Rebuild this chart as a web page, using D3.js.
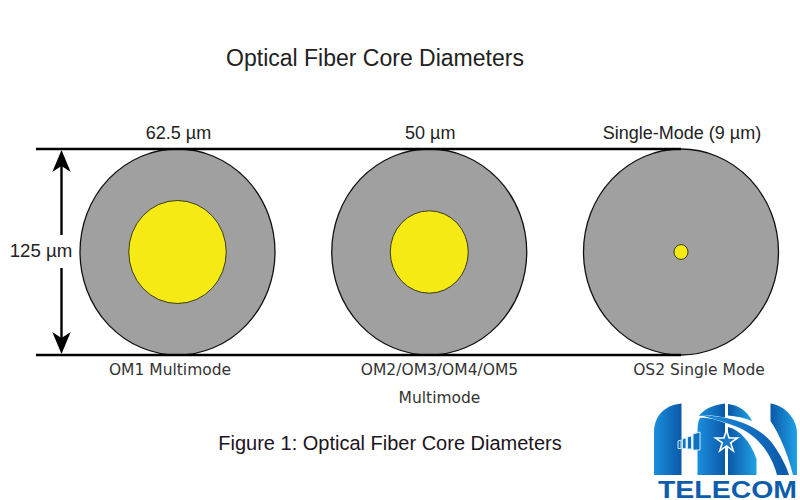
<!DOCTYPE html>
<html>
<head>
<meta charset="utf-8">
<script src="https://cdn.jsdelivr.net/npm/d3@7"></script>
<style>
  html, body { margin: 0; padding: 0; background: #fff; }
  svg { display: block; }
  text { font-family: "Liberation Sans", Arial, sans-serif; }
</style>
</head>
<body>
<svg id="chart" width="800" height="500"></svg>
<script>
// the data
var topLabels = ["62.5 µm", "50 µm", "Single-Mode (9 µm)"];
var coreDiameters = [62.5, 50, 9];
var claddingDiameter = 125;
var fiberNames = [["OM1 Multimode"], ["OM2/OM3/OM4/OM5", "Multimode"], ["OS2 Single Mode"]];

var svg = d3.select("#chart");

// um to pixels, 125 um is the height between the two black lines
// the picture is a bit squashed so the circles are really ellipses
var yUm = d3.scaleLinear().domain([0, claddingDiameter]).range([355, 149]);
var rxUm = d3.scaleLinear().domain([0, claddingDiameter]).range([0, 97.5]);
var ryUm = d3.scaleLinear().domain([0, claddingDiameter]).range([0, 103]);
var x = d3.scalePoint().domain(d3.range(coreDiameters.length)).range([177.5, 681]);
var cy = yUm(claddingDiameter / 2);

var defs = svg.append("defs");

svg.append("text").attr("x", 375).attr("y", 66).attr("text-anchor", "middle")
  .attr("font-size", 23).attr("fill", "#222").text("Optical Fiber Core Diameters");

// ellipses
svg.selectAll("ellipse.clad").data(coreDiameters).enter().append("ellipse")
  .attr("class", "clad")
  .attr("cx", (d, i) => x(i)).attr("cy", cy)
  .attr("rx", rxUm(claddingDiameter)).attr("ry", ryUm(claddingDiameter))
  .attr("fill", "#a0a0a0").attr("stroke", "#111").attr("stroke-width", 1.3);

svg.selectAll("ellipse.core").data(coreDiameters).enter().append("ellipse")
  .attr("class", "core")
  .attr("cx", (d, i) => x(i)).attr("cy", cy)
  .attr("rx", d => rxUm(d)).attr("ry", d => ryUm(d))
  .attr("fill", "#f5ea14").attr("stroke", "#3c3a10").attr("stroke-width", 1);

// black lines top and bottom
[yUm(claddingDiameter), yUm(0)].forEach(function (y) {
  svg.append("line").attr("x1", 36).attr("x2", x(2)).attr("y1", y).attr("y2", y)
    .attr("stroke", "#000").attr("stroke-width", 2.6);
});

// double arrow, one shaft and head each way
[{ y: yUm(claddingDiameter) + 1, dir: 1, end: 235 }, { y: yUm(0) - 1, dir: -1, end: 268 }].forEach(function (a) {
  svg.append("line").attr("x1", 61.5).attr("x2", 61.5)
    .attr("y1", a.y + a.dir * 14).attr("y2", a.end)
    .attr("stroke", "#000").attr("stroke-width", 2.4);
  svg.append("path")
    .attr("transform", "translate(61.5," + a.y + ") scale(1," + a.dir + ")")
    .attr("d", "M0,0 L9.2,22 L0,16 L-9.2,22 Z").attr("fill", "#000");
});

svg.append("text").attr("x", 41).attr("y", 257).attr("text-anchor", "middle")
  .attr("font-size", 18.7).attr("fill", "#222").text(claddingDiameter + " µm");

svg.selectAll("text.top").data(topLabels).enter().append("text")
  .attr("class", "top")
  .attr("x", (d, i) => x(i) + 1).attr("y", 138.5).attr("text-anchor", "middle")
  .attr("font-size", 18).attr("fill", "#222").text(d => d);

fiberNames.forEach(function (lines, i) {
  lines.forEach(function (t, j) {
    svg.append("text").attr("x", [170, 439.5, 699][i]).attr("y", 374.5 + j * 28)
      .attr("text-anchor", "middle")
      .style("font-family", "'DejaVu Sans', Verdana, sans-serif")
      .attr("font-size", 15.5).attr("fill", "#333").text(t);
  });
});

svg.append("text").attr("x", 390).attr("y", 450).attr("text-anchor", "middle")
  .attr("font-size", 20).attr("fill", "#1c1420").text("Figure 1: Optical Fiber Core Diameters");

// logo
function blue(id, c1, c2) {
  var g = defs.append("linearGradient").attr("id", id);
  g.append("stop").attr("offset", "0%").attr("stop-color", c1);
  g.append("stop").attr("offset", "100%").attr("stop-color", c2);
}
blue("logoA", "#1b8ede", "#0b58a8");
blue("logoB", "#0b58a8", "#1fa2e6");

var logo = svg.append("g");
var logoParts = [
  ["logoA", "M654,475 V432 C654,416 665,405 681.5,403.5 V475 Z"],
  ["logoA", "M725,403.5 C712,405 703,410 699,416 C708,414 716,416 725,417.5 Z"],
  ["logoA", "M697.5,475 V432 C697.5,426 698,421 700,418 C708,417 716,420 725,423 V475 Z"],
  ["logoB", "M728,404 C739,405 748,412 752,421 C745,418 736,416 728,415.5 Z"],
  ["logoB", "M728,427 C740,430 750,441 756.5,459 V475 H728 Z"],
  ["logoA", "M700,415 C725,416 755,422 772,443 C780,454 786,465 789,475 H777 C771,452 755,432 732,425 C722,421 710,418 700,415 Z"],
  ["logoB", "M770.5,403.5 C785,405 797,420 797,432 V475 H793 C788,455 780,435 770.5,421 Z"]
];
logo.selectAll("path.part").data(logoParts).enter().append("path")
  .attr("class", "part")
  .attr("fill", d => "url(#" + d[0] + ")").attr("d", d => d[1]);

// signal bars
logo.append("path").attr("fill", "#1170c0").attr("stroke", "#cdeafa").attr("stroke-width", 1)
  .attr("d", "M678,448.5 V441 L681,440 V448.5 Z M682.5,448.5 V439 L686,438 V448.5 Z M687.5,449 V437 L691.5,436 V449 Z M693,450 V434 L700,432 V450 Z");

// star
logo.append("path").attr("transform", "translate(726.5,441.5)")
  .attr("d", d3.symbol().type(d3.symbolStar).size(150))
  .attr("fill", "#1a78c8").attr("stroke", "#fff").attr("stroke-width", 1.6);

logo.append("text").attr("x", 658).attr("y", 498).attr("text-anchor", "start")
  .attr("font-size", 23.5).attr("font-weight", "bold").attr("fill", "#0e5dac")
  .attr("textLength", 139).attr("lengthAdjust", "spacingAndGlyphs").text("TELECOM");
</script>
</body>
</html>
